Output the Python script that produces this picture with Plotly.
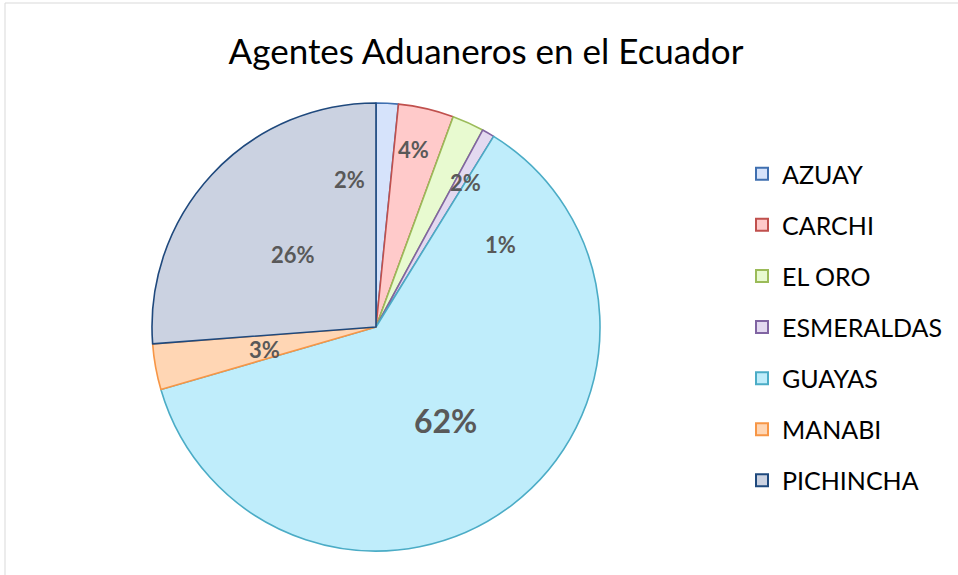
import math
import plotly.graph_objects as go

# ---- data ----
categories = ["AZUAY", "CARCHI", "EL ORO", "ESMERALDAS", "GUAYAS", "MANABI", "PICHINCHA"]
values = [1.6, 4.0, 2.3, 0.9, 61.7, 3.3, 26.2]
title_text = "Agentes Aduaneros en el Ecuador"

# ---- styles ----
fill_colors = ["#d6e3fb", "#ffcaca", "#e8fad0", "#e3d9f0", "#bfedfb", "#ffd6b4", "#cbd2e1"]
line_colors = ["#3f6fb0", "#c0504d", "#9bbb59", "#8064a2", "#4bacc6", "#f79646", "#1f497d"]
W, H = 958, 575
CX, CY, R = 376, 327, 224  # pie centre / radius in pixels
# label placement: (radius fraction, angle nudge in degrees, font size)
label_layout = [(0.67, -12.9, 22), (0.81, -1.0, 22), (0.76, 7.5, 22), (0.665, 26.5, 22),
                (0.52, 0.7, 32), (0.51, -1.3, 22), (0.49, -1.8, 22)]

fig = go.Figure()
fig.add_trace(go.Pie(
    labels=categories, values=values, sort=False, direction="clockwise", rotation=0,
    marker=dict(colors=fill_colors, line=dict(color=line_colors, width=1.6)),
    textinfo="none", hoverinfo="label+percent", showlegend=False,
    domain=dict(x=[(CX - R) / W, (CX + R) / W], y=[(H - CY - R) / H, (H - CY + R) / H]),
))

# legend entries
for cat, fc, lc in zip(categories, fill_colors, line_colors):
    fig.add_trace(go.Scatter(
        x=[None], y=[None], mode="markers", name=cat, legendgroup=cat,
        marker=dict(symbol="square", size=16, color=fc, line=dict(color=lc, width=1.6)),
    ))

# percentage labels computed from the values
total = sum(values)
cum = 0.0
for v, (rf, nudge, fs) in zip(values, label_layout):
    mid = (cum + v / 2) / total * 360.0 + nudge
    cum += v
    a = math.radians(mid)
    xp = CX + rf * R * math.sin(a)
    yp = CY - rf * R * math.cos(a)
    fig.add_annotation(
        x=xp / W, y=1 - yp / H, xref="paper", yref="paper", showarrow=False,
        text="<b>%d%%</b>" % round(v / total * 100),
        font=dict(family="Lato", size=fs, color="#595959"),
        xanchor="center", yanchor="middle",
    )

# chart border
fig.add_shape(type="rect", xref="paper", yref="paper",
              x0=5 / W, y0=-0.1, x1=1.1, y1=1 - 3 / H,
              line=dict(color="#d9d9d9", width=1), fillcolor="rgba(0,0,0,0)")

fig.update_layout(
    width=W, height=H,
    margin=dict(l=0, r=0, t=0, b=0),
    paper_bgcolor="white", plot_bgcolor="white",
    title=dict(text=title_text, x=486 / W, xanchor="center", y=1 - 52 / H, yanchor="middle",
               font=dict(family="Lato", size=35, color="#000000")),
    xaxis=dict(visible=False), yaxis=dict(visible=False),
    legend=dict(x=742 / W, xanchor="left", y=1 - 151 / H, yanchor="top",
                font=dict(family="Lato", size=25, color="#000000"),
                tracegroupgap=15.6, itemsizing="constant", bgcolor="rgba(0,0,0,0)"),
)

fig.write_html("out.html", config={"displayModeBar": False},
               post_script="document.body.style.margin='0';")
